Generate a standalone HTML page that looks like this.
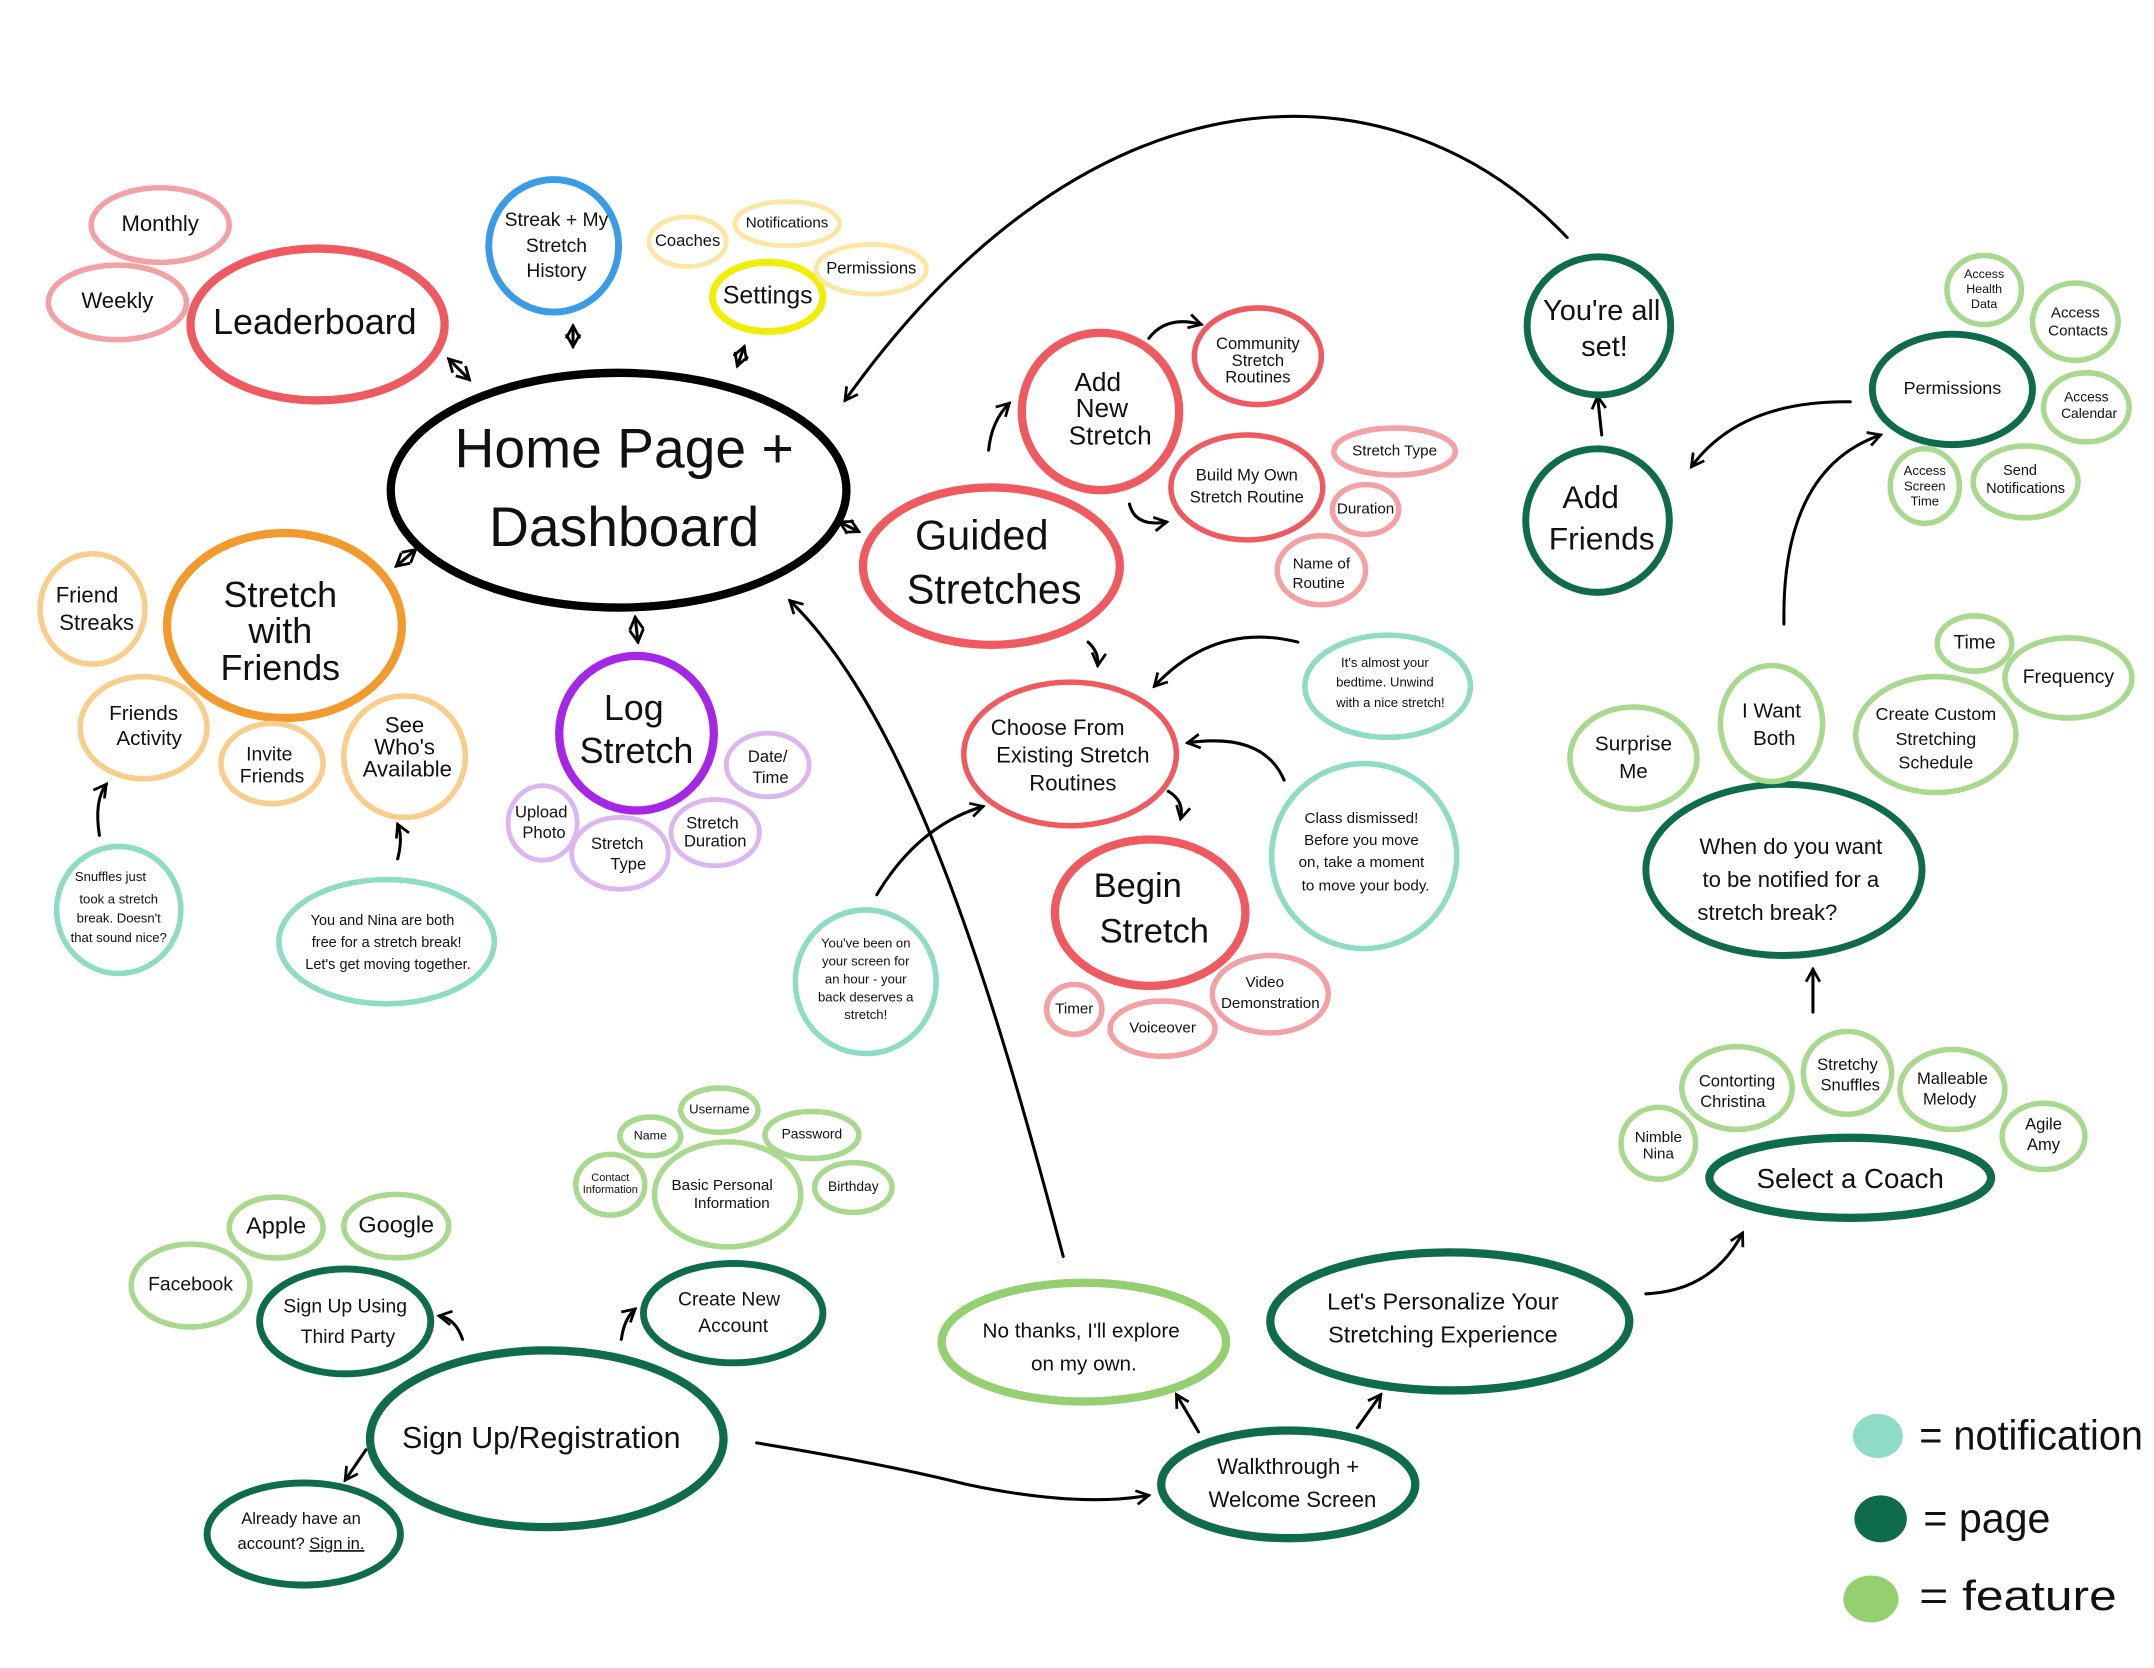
<!DOCTYPE html>
<html><head><meta charset="utf-8"><style>
html,body{margin:0;padding:0;background:#fff;}
svg{display:block;}
text{font-family:"Liberation Sans",sans-serif;fill:#111;text-anchor:middle;dominant-baseline:middle;}
</style></head><body>
<svg width="2154" height="1668" viewBox="0 0 1560 1208" xmlns="http://www.w3.org/2000/svg">
<defs>
<marker id="a" viewBox="0 0 12 12" refX="10" refY="6" markerWidth="12" markerHeight="12" markerUnits="userSpaceOnUse" orient="auto-start-reverse">
<path d="M1,1 L10,6 L1,11" fill="none" stroke="#000" stroke-width="2"/>
</marker>
</defs>
<g fill="none" stroke="#000" stroke-width="2.2" stroke-linecap="round">
<path d="M1135,172 C1010,40 790,40 612,290" marker-end="url(#a)"/>
<path d="M770,910 C720,720 660,520 572,435" marker-end="url(#a)"/>
<path d="M325,260 L340,275" marker-end="url(#a)" marker-start="url(#a)"/>
<path d="M415,236 L415,251" marker-end="url(#a)" marker-start="url(#a)"/>
<path d="M539,251 L534,265" marker-end="url(#a)" marker-start="url(#a)"/>
<path d="M301,398 L287,410" marker-end="url(#a)" marker-start="url(#a)"/>
<path d="M460,447 L462,465" marker-end="url(#a)" marker-start="url(#a)"/>
<path d="M608,378 L622,385" marker-end="url(#a)" marker-start="url(#a)"/>
<path d="M716,326 Q718,305 731,292" marker-end="url(#a)"/>
<path d="M832,245 Q845,228 870,235" marker-end="url(#a)"/>
<path d="M818,365 Q822,382 845,378" marker-end="url(#a)"/>
<path d="M788,465 Q796,472 795,482" marker-end="url(#a)"/>
<path d="M846,573 Q858,580 855,593" marker-end="url(#a)"/>
<path d="M940,465 Q880,450 836,497" marker-end="url(#a)"/>
<path d="M930,565 Q915,530 860,538" marker-end="url(#a)"/>
<path d="M635,648 Q665,598 712,584" marker-end="url(#a)"/>
<path d="M72,605 Q68,580 77,568" marker-end="url(#a)"/>
<path d="M288,622 Q292,606 288,597" marker-end="url(#a)"/>
<path d="M335,970 Q330,955 318,953" marker-end="url(#a)"/>
<path d="M450,970 Q452,955 460,948" marker-end="url(#a)"/>
<path d="M265,1050 L250,1072" marker-end="url(#a)"/>
<path d="M548,1045 Q640,1060 700,1075 Q780,1092 832,1083" marker-end="url(#a)"/>
<path d="M868,1037 L852,1010" marker-end="url(#a)"/>
<path d="M983,1034 L1000,1010" marker-end="url(#a)"/>
<path d="M1192,937 Q1240,935 1262,893" marker-end="url(#a)"/>
<path d="M1313,733 L1313,702" marker-end="url(#a)"/>
<path d="M1292,452 Q1290,340 1362,315" marker-end="url(#a)"/>
<path d="M1340,291 Q1260,290 1225,338" marker-end="url(#a)"/>
<path d="M1160,315 L1157,287" marker-end="url(#a)"/>
</g>
<g fill="none">
<ellipse cx="448" cy="355" rx="165" ry="85" stroke="#000" stroke-width="6"/>
<g stroke="#ee5a5f" stroke-width="6">
<ellipse cx="230" cy="235" rx="92" ry="55"/>
<ellipse cx="718" cy="410" rx="93" ry="57"/>
<ellipse cx="797" cy="298" rx="57" ry="57"/>
<ellipse cx="833" cy="661" rx="69" ry="53"/>
</g>
<g stroke="#ee5a5f" stroke-width="4">
<ellipse cx="911" cy="258" rx="46" ry="35"/>
<ellipse cx="903" cy="353" rx="55" ry="38"/>
<ellipse cx="775" cy="546" rx="77" ry="52"/>
</g>
<g stroke="#f2a2a4" stroke-width="4">
<ellipse cx="116" cy="163" rx="50" ry="27"/>
<ellipse cx="85" cy="219" rx="50" ry="27"/>
<ellipse cx="1010" cy="327" rx="44" ry="17"/>
<ellipse cx="989" cy="369" rx="24" ry="18"/>
<ellipse cx="957" cy="413" rx="32" ry="25"/>
<ellipse cx="778" cy="731" rx="20" ry="18"/>
<ellipse cx="842" cy="745" rx="38" ry="20"/>
<ellipse cx="920" cy="720" rx="42" ry="28"/>
</g>
<ellipse cx="401" cy="178" rx="47" ry="48" stroke="#3a9be6" stroke-width="5"/>
<ellipse cx="556" cy="215" rx="40" ry="25" stroke="#f2ee00" stroke-width="5"/>
<g stroke="#fbe6a2" stroke-width="3.5">
<ellipse cx="498" cy="175" rx="28" ry="18"/>
<ellipse cx="570" cy="162" rx="38" ry="16"/>
<ellipse cx="631" cy="195" rx="40" ry="18"/>
</g>
<ellipse cx="206" cy="453" rx="85" ry="67" stroke="#f29a2e" stroke-width="6"/>
<g stroke="#f9cd8c" stroke-width="4">
<ellipse cx="67" cy="441" rx="38" ry="40"/>
<ellipse cx="104" cy="527" rx="46" ry="37"/>
<ellipse cx="197" cy="553" rx="37" ry="29"/>
<ellipse cx="293" cy="548" rx="44" ry="44"/>
</g>
<ellipse cx="461" cy="531" rx="56" ry="56" stroke="#a626e6" stroke-width="6"/>
<g stroke="#dcb6f0" stroke-width="3.5">
<ellipse cx="556" cy="554" rx="30" ry="23"/>
<ellipse cx="393" cy="596" rx="25" ry="27"/>
<ellipse cx="449" cy="618" rx="35" ry="26"/>
<ellipse cx="518" cy="603" rx="32" ry="24"/>
</g>
<g stroke="#8fdcc6" stroke-width="4">
<ellipse cx="86" cy="659" rx="45" ry="46"/>
<ellipse cx="280" cy="682" rx="78" ry="45"/>
<ellipse cx="1005" cy="497" rx="60" ry="37"/>
<ellipse cx="988" cy="620" rx="67" ry="67"/>
<ellipse cx="627" cy="711" rx="51" ry="52"/>
</g>
<g stroke="#0e6b4d" stroke-width="5">
<ellipse cx="1158" cy="236" rx="52" ry="50"/>
<ellipse cx="1157" cy="377" rx="52" ry="52"/>
<ellipse cx="1414" cy="282" rx="58" ry="40"/>
<ellipse cx="1292" cy="630" rx="100" ry="62"/>
<ellipse cx="531" cy="951" rx="65" ry="36"/>
<ellipse cx="250" cy="957" rx="62" ry="38"/>
<ellipse cx="220" cy="1111" rx="70" ry="37"/>
</g>
<g stroke="#0e6b4d" stroke-width="6">
<ellipse cx="1340" cy="853" rx="102" ry="29"/>
<ellipse cx="1050" cy="957" rx="130" ry="50"/>
<ellipse cx="933" cy="1075" rx="92" ry="39"/>
<ellipse cx="396" cy="1042" rx="128" ry="64"/>
</g>
<ellipse cx="785" cy="972" rx="103" ry="43" stroke="#95d070" stroke-width="6"/>
<g stroke="#a9d98e" stroke-width="4">
<ellipse cx="1437" cy="210" rx="27" ry="25"/>
<ellipse cx="1503" cy="233" rx="31" ry="28"/>
<ellipse cx="1511" cy="295" rx="31" ry="25"/>
<ellipse cx="1394" cy="352" rx="25" ry="27"/>
<ellipse cx="1467" cy="349" rx="38" ry="26"/>
<ellipse cx="1430" cy="466" rx="27" ry="20"/>
<ellipse cx="1498" cy="491" rx="46" ry="29"/>
<ellipse cx="1402" cy="532" rx="58" ry="42"/>
<ellipse cx="1283" cy="524" rx="37" ry="42"/>
<ellipse cx="1183" cy="549" rx="46" ry="37"/>
<ellipse cx="1258" cy="788" rx="40" ry="30"/>
<ellipse cx="1338" cy="777" rx="32" ry="30"/>
<ellipse cx="1414" cy="789" rx="38" ry="29"/>
<ellipse cx="1201" cy="828" rx="27" ry="26"/>
<ellipse cx="1480" cy="823" rx="30" ry="24"/>
<ellipse cx="527" cy="865" rx="53" ry="38"/>
<ellipse cx="521" cy="804" rx="28" ry="16"/>
<ellipse cx="471" cy="823" rx="22" ry="14"/>
<ellipse cx="588" cy="822" rx="34" ry="17"/>
<ellipse cx="442" cy="858" rx="25" ry="22"/>
<ellipse cx="618" cy="860" rx="28" ry="18"/>
<ellipse cx="200" cy="889" rx="34" ry="22"/>
<ellipse cx="287" cy="888" rx="38" ry="23"/>
<ellipse cx="138" cy="931" rx="43" ry="30"/>
</g>
</g>
<ellipse cx="1360" cy="1040" rx="18" ry="16" fill="#8fdcc6"/>
<ellipse cx="1362" cy="1100" rx="19" ry="17" fill="#0e6b4d"/>
<ellipse cx="1355" cy="1158" rx="20" ry="17" fill="#95d070"/>
<text x="1390" y="1042" font-size="30" textLength="162" lengthAdjust="spacingAndGlyphs" style="text-anchor:start">= notification</text>
<text x="1393" y="1102" font-size="30" textLength="92" lengthAdjust="spacingAndGlyphs" style="text-anchor:start">= page</text>
<text x="1390" y="1158" font-size="30" textLength="143" lengthAdjust="spacingAndGlyphs" style="text-anchor:start">= feature</text>
<text x="452" y="328" font-size="40">Home Page +</text>
<text x="452" y="385" font-size="40">Dashboard</text>
<text x="228" y="235" font-size="26">Leaderboard</text>
<text x="116" y="163" font-size="16">Monthly</text>
<text x="85" y="219" font-size="16">Weekly</text>
<text font-size="14"><tspan x="403" y="160">Streak + My</tspan><tspan x="403" y="179">Stretch</tspan><tspan x="403" y="197">History</tspan></text>
<text x="556" y="215" font-size="18">Settings</text>
<text x="498" y="175" font-size="12">Coaches</text>
<text x="570" y="162" font-size="11">Notifications</text>
<text x="631" y="195" font-size="12">Permissions</text>
<text font-size="26"><tspan x="203" y="433">Stretch</tspan><tspan x="203" y="459">with</tspan><tspan x="203" y="486">Friends</tspan></text>
<text font-size="16"><tspan x="63" y="432">Friend</tspan><tspan x="70" y="452">Streaks</tspan></text>
<text font-size="15"><tspan x="104" y="518">Friends</tspan><tspan x="108" y="536">Activity</tspan></text>
<text font-size="14"><tspan x="195" y="547">Invite</tspan><tspan x="197" y="563">Friends</tspan></text>
<text font-size="16"><tspan x="293" y="526">See</tspan><tspan x="293" y="542">Who's</tspan><tspan x="295" y="558">Available</tspan></text>
<text font-size="9.5"><tspan x="80" y="636">Snuffles just</tspan><tspan x="86" y="652">took a stretch</tspan><tspan x="86" y="666">break. Doesn't</tspan><tspan x="86" y="680">that sound nice?</tspan></text>
<text font-size="10.5"><tspan x="277" y="667">You and Nina are both</tspan><tspan x="280" y="683">free for a stretch break!</tspan><tspan x="281" y="699">Let's get moving together.</tspan></text>
<text font-size="26"><tspan x="459" y="515">Log</tspan><tspan x="461" y="546">Stretch</tspan></text>
<text font-size="12"><tspan x="556" y="549">Date/</tspan><tspan x="558" y="564">Time</tspan></text>
<text font-size="12"><tspan x="392" y="589">Upload</tspan><tspan x="394" y="604">Photo</tspan></text>
<text font-size="12"><tspan x="447" y="612">Stretch</tspan><tspan x="455" y="627">Type</tspan></text>
<text font-size="12"><tspan x="516" y="597">Stretch</tspan><tspan x="518" y="610">Duration</tspan></text>
<text font-size="30"><tspan x="711" y="390">Guided</tspan><tspan x="720" y="429">Stretches</tspan></text>
<text font-size="19"><tspan x="795" y="278">Add</tspan><tspan x="798" y="297">New</tspan><tspan x="804" y="317">Stretch</tspan></text>
<text font-size="12"><tspan x="911" y="250">Community</tspan><tspan x="911" y="262">Stretch</tspan><tspan x="911" y="274">Routines</tspan></text>
<text font-size="12"><tspan x="903" y="345">Build My Own</tspan><tspan x="903" y="361">Stretch Routine</tspan></text>
<text x="1010" y="327" font-size="11">Stretch Type</text>
<text x="989" y="369" font-size="11">Duration</text>
<text font-size="11"><tspan x="957" y="409">Name of</tspan><tspan x="955" y="423">Routine</tspan></text>
<text font-size="16"><tspan x="766" y="528">Choose From</tspan><tspan x="777" y="548">Existing Stretch</tspan><tspan x="777" y="568">Routines</tspan></text>
<text font-size="25"><tspan x="824" y="643">Begin</tspan><tspan x="836" y="676">Stretch</tspan></text>
<text x="778" y="731" font-size="11">Timer</text>
<text x="842" y="745" font-size="11">Voiceover</text>
<text font-size="11"><tspan x="916" y="712">Video</tspan><tspan x="920" y="727">Demonstration</tspan></text>
<text font-size="9.5"><tspan x="1003" y="481">It's almost your</tspan><tspan x="1003" y="495">bedtime. Unwind</tspan><tspan x="1007" y="510">with a nice stretch!</tspan></text>
<text font-size="11"><tspan x="986" y="593">Class dismissed!</tspan><tspan x="986" y="609">Before you move</tspan><tspan x="986" y="625">on, take a moment</tspan><tspan x="989" y="642">to move your body.</tspan></text>
<text font-size="9.5"><tspan x="627" y="684">You've been on</tspan><tspan x="627" y="697">your screen for</tspan><tspan x="627" y="710">an hour - your</tspan><tspan x="627" y="723">back deserves a</tspan><tspan x="627" y="736">stretch!</tspan></text>
<text font-size="21"><tspan x="1160" y="226">You're all</tspan><tspan x="1162" y="252">set!</tspan></text>
<text font-size="23"><tspan x="1152" y="362">Add</tspan><tspan x="1160" y="392">Friends</tspan></text>
<text x="1414" y="282" font-size="13">Permissions</text>
<text font-size="9"><tspan x="1437" y="199">Access</tspan><tspan x="1437" y="210">Health</tspan><tspan x="1437" y="221">Data</tspan></text>
<text font-size="11"><tspan x="1503" y="227">Access</tspan><tspan x="1505" y="240">Contacts</tspan></text>
<text font-size="10"><tspan x="1511" y="288">Access</tspan><tspan x="1513" y="300">Calendar</tspan></text>
<text font-size="9.5"><tspan x="1394" y="342">Access</tspan><tspan x="1394" y="353">Screen</tspan><tspan x="1394" y="364">Time</tspan></text>
<text font-size="10.5"><tspan x="1463" y="341">Send</tspan><tspan x="1467" y="354">Notifications</tspan></text>
<text x="1430" y="466" font-size="14">Time</text>
<text x="1498" y="491" font-size="14">Frequency</text>
<text font-size="13"><tspan x="1402" y="518">Create Custom</tspan><tspan x="1402" y="536">Stretching</tspan><tspan x="1402" y="553">Schedule</tspan></text>
<text font-size="15"><tspan x="1283" y="516">I Want</tspan><tspan x="1285" y="536">Both</tspan></text>
<text font-size="15"><tspan x="1183" y="540">Surprise</tspan><tspan x="1183" y="560">Me</tspan></text>
<text font-size="16"><tspan x="1297" y="614">When do you want</tspan><tspan x="1297" y="638">to be notified for a</tspan><tspan x="1280" y="662">stretch break?</tspan></text>
<text font-size="12"><tspan x="1258" y="784">Contorting</tspan><tspan x="1255" y="799">Christina</tspan></text>
<text font-size="12"><tspan x="1338" y="772">Stretchy</tspan><tspan x="1340" y="787">Snuffles</tspan></text>
<text font-size="12"><tspan x="1414" y="782">Malleable</tspan><tspan x="1412" y="797">Melody</tspan></text>
<text font-size="11"><tspan x="1201" y="824">Nimble</tspan><tspan x="1201" y="836">Nina</tspan></text>
<text font-size="12"><tspan x="1480" y="815">Agile</tspan><tspan x="1480" y="830">Amy</tspan></text>
<text x="1340" y="855" font-size="20">Select a Coach</text>
<text font-size="17"><tspan x="1045" y="944">Let's Personalize Your</tspan><tspan x="1045" y="968">Stretching Experience</tspan></text>
<text font-size="15"><tspan x="783" y="965">No thanks, I'll explore</tspan><tspan x="785" y="989">on my own.</tspan></text>
<text font-size="16"><tspan x="933" y="1063">Walkthrough +</tspan><tspan x="936" y="1087">Welcome Screen</tspan></text>
<text x="392" y="1043" font-size="22">Sign Up/Registration</text>
<text font-size="14"><tspan x="528" y="942">Create New</tspan><tspan x="531" y="961">Account</tspan></text>
<text font-size="11"><tspan x="523" y="859">Basic Personal</tspan><tspan x="530" y="872">Information</tspan></text>
<text x="521" y="804" font-size="9.5">Username</text>
<text x="471" y="823" font-size="9">Name</text>
<text x="588" y="822" font-size="10">Password</text>
<text font-size="8"><tspan x="442" y="853">Contact</tspan><tspan x="442" y="862">Information</tspan></text>
<text x="618" y="860" font-size="10">Birthday</text>
<text font-size="14"><tspan x="250" y="947">Sign Up Using</tspan><tspan x="252" y="969">Third Party</tspan></text>
<text x="200" y="889" font-size="17">Apple</text>
<text x="287" y="888" font-size="17">Google</text>
<text x="138" y="931" font-size="14">Facebook</text>
<text font-size="12"><tspan x="218" y="1101">Already have an</tspan><tspan x="218" y="1119">account? <tspan text-decoration="underline">Sign in.</tspan></tspan></text>
</svg>
</body></html>
